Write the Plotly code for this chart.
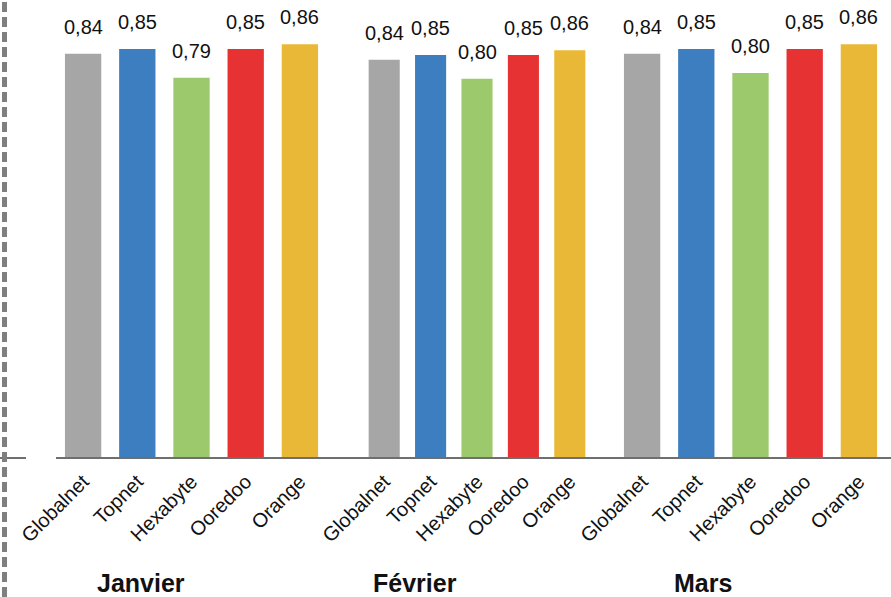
import plotly.graph_objects as go
from plotly.subplots import make_subplots

months = ["Janvier", "Février", "Mars"]
operators = ["Globalnet", "Topnet", "Hexabyte", "Ooredoo", "Orange"]
janvier = [0.84, 0.85, 0.79, 0.85, 0.86]
fevrier = [0.84, 0.85, 0.80, 0.85, 0.86]
mars = [0.84, 0.85, 0.80, 0.85, 0.86]
series = [janvier, fevrier, mars]
colors = ["#a6a6a6", "#3c7ebf", "#9cc96c", "#e73234", "#e8b836"]

FONT = "Liberation Sans, Arial, sans-serif"

fig = make_subplots(rows=1, cols=3, shared_yaxes=False, horizontal_spacing=0.02)

for i, vals in enumerate(series):
    fig.add_trace(
        go.Bar(
            x=operators,
            y=vals,
            marker=dict(color=colors, line=dict(width=0)),
            cliponaxis=False,
            showlegend=False,
            hoverinfo="x+y",
        ),
        row=1, col=i + 1,
    )
    xr = "x" if i == 0 else f"x{i+1}"
    yr = "y" if i == 0 else f"y{i+1}"
    for op, v in zip(operators, vals):
        fig.add_annotation(
            x=op, y=v, xref=xr, yref=yr,
            text=f"{v:.2f}".replace(".", ","),
            showarrow=False, xanchor="center", yanchor="bottom", yshift=14,
            font=dict(family=FONT, size=20, color="#111111"),
        )

W, H = 891, 597
x_domains = [(56 / W, 327 / W), (361 / W, 593 / W), (615 / W, 886 / W)]
y_dom = (1 - 458 / H, 1 - 10 / H)
y_ranges = [[0, 0.931], [0, 0.945], [0, 0.931]]

for i in range(3):
    xa = "xaxis" if i == 0 else f"xaxis{i+1}"
    ya = "yaxis" if i == 0 else f"yaxis{i+1}"
    fig.layout[xa].update(
        domain=list(x_domains[i]),
        tickangle=-45,
        tickfont=dict(family=FONT, size=20, color="#111111"),
        showline=False,
        ticks="",
        showgrid=False,
        zeroline=False,
        automargin=False,
        ticklabelstandoff=7,
    )
    fig.layout[ya].update(
        domain=list(y_dom),
        range=y_ranges[i],
        visible=False,
        showgrid=False,
        zeroline=False,
        automargin=False,
    )

# baseline lines and left dashed border
base_y = 1 - 458 / H
fig.add_shape(type="line", xref="paper", yref="paper", x0=0, x1=26 / W,
              y0=base_y, y1=base_y, line=dict(color="#6f6f6f", width=2))
fig.add_shape(type="line", xref="paper", yref="paper", x0=56 / W, x1=1,
              y0=base_y, y1=base_y, line=dict(color="#6f6f6f", width=2))
fig.add_shape(type="line", xref="paper", yref="paper", x0=4.5 / W, x1=4.5 / W,
              y0=0, y1=1, line=dict(color="#7f7f7f", width=5, dash="10px,5px"))

# month group labels
month_x = [141 / W, 415 / W, 703 / W]
for m, mx in zip(months, month_x):
    fig.add_annotation(text=f"<b>{m}</b>", x=mx, y=1 - 583 / H, xref="paper", yref="paper",
                       showarrow=False, xanchor="center", yanchor="middle",
                       font=dict(family=FONT, size=25, color="#111111"))

fig.update_layout(
    template="none",
    width=W, height=H,
    margin=dict(l=0, r=0, t=0, b=0, autoexpand=False),
    paper_bgcolor="white",
    plot_bgcolor="white",
    bargap=0.33,
    font=dict(family=FONT),
)

fig.write_html("out.html", config={"displayModeBar": False},
               post_script="document.body.style.margin='0';")
